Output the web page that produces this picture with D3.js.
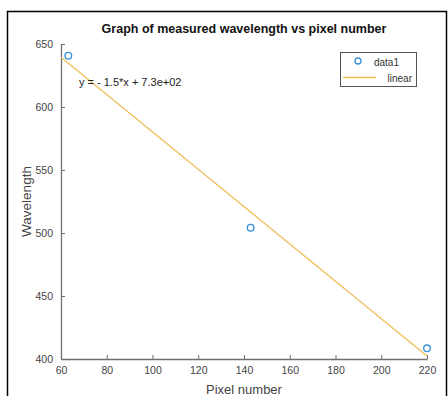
<!DOCTYPE html>
<html>
<head>
<meta charset="utf-8">
<script src="https://cdn.jsdelivr.net/npm/d3@7"></script>
<style>
  body { margin: 0; background: #fff; }
  svg { display: block; font-family: "Liberation Sans", Arial, sans-serif; }
</style>
</head>
<body>
<div id="chart"></div>
<script>
// measured points
const pixelNumbers = [63.2, 142.9, 220];
const wavelengths = [640.7, 504.2, 408.5];
// fitted line end points
const fitX = [60, 220];
const fitY = [639.4, 402.3];
const xTicks = [60, 80, 100, 120, 140, 160, 180, 200, 220];
const yTicks = [400, 450, 500, 550, 600, 650];
const legendLabels = ['data1', 'linear'];

const width = 448, height = 396;
const plot = { left: 61, right: 427, top: 44, bottom: 359 };

const svg = d3.select('#chart')
    .append('svg')
    .attr('width', width)
    .attr('height', height);

// outer frame
svg.append('rect')
    .attr('x', 7.5).attr('y', 11.5)
    .attr('width', 439).attr('height', 400)
    .attr('fill', 'none')
    .attr('stroke', '#000')
    .attr('stroke-width', 1.5);

const x = d3.scaleLinear().domain([60, 220]).range([plot.left, plot.right]);
const y = d3.scaleLinear().domain([400, 650]).range([plot.bottom, plot.top]);

const xAxis = svg.append('g')
    .attr('transform', `translate(0,${plot.bottom})`)
    .call(d3.axisBottom(x).tickValues(xTicks).tickSize(-4).tickPadding(8).tickSizeOuter(0));

const yAxis = svg.append('g')
    .attr('transform', `translate(${plot.left},0)`)
    .call(d3.axisLeft(y).tickValues(yTicks).tickSize(-4).tickPadding(8).tickSizeOuter(0));

[xAxis, yAxis].forEach(g => {
    g.select('.domain').attr('stroke', '#707070').attr('stroke-width', 1.3);
    g.selectAll('.tick line').attr('stroke', '#707070');
    g.selectAll('.tick text')
        .attr('fill', '#444')
        .style('font-size', '10.5px')
        .style('font-family', '"Liberation Sans", Arial, sans-serif');
});

// fit line
svg.append('line')
    .attr('x1', x(fitX[0])).attr('y1', y(fitY[0]))
    .attr('x2', x(fitX[1])).attr('y2', y(fitY[1]))
    .attr('stroke', '#f0be5a')
    .attr('stroke-width', 1.3);

// data points
svg.selectAll('.pt')
    .data(pixelNumbers)
    .enter()
    .append('circle')
    .attr('class', 'pt')
    .attr('cx', d => x(d))
    .attr('cy', (d, i) => y(wavelengths[i]))
    .attr('r', 3.3)
    .attr('fill', 'none')
    .attr('stroke', '#3d94d8')
    .attr('stroke-width', 1.4);

// equation label
svg.append('text')
    .attr('x', 79).attr('y', 86)
    .attr('fill', '#222')
    .style('font-size', '11px')
    .text('y = - 1.5*x + 7.3e+02');

// title
svg.append('text')
    .attr('x', (plot.left + plot.right) / 2).attr('y', 33)
    .attr('text-anchor', 'middle')
    .attr('font-weight', 'bold')
    .attr('fill', '#111')
    .style('font-size', '12.5px')
    .text('Graph of measured wavelength vs pixel number');

// axis labels
svg.append('text')
    .attr('x', (plot.left + plot.right) / 2).attr('y', 394)
    .attr('text-anchor', 'middle')
    .attr('fill', '#444')
    .style('font-size', '13px')
    .text('Pixel number');

svg.append('text')
    .attr('transform', `translate(31,${(plot.top + plot.bottom) / 2}) rotate(-90)`)
    .attr('text-anchor', 'middle')
    .attr('fill', '#444')
    .style('font-size', '13.5px')
    .text('Wavelength');

// legend
const legend = svg.append('g');
legend.append('rect')
    .attr('x', 340.5).attr('y', 52.5)
    .attr('width', 76).attr('height', 34)
    .attr('fill', '#fff')
    .attr('stroke', '#555');
legend.append('circle')
    .attr('cx', 358).attr('cy', 61).attr('r', 3)
    .attr('fill', 'none')
    .attr('stroke', '#3d94d8')
    .attr('stroke-width', 1.4);
legend.append('line')
    .attr('x1', 343).attr('x2', 376)
    .attr('y1', 77.5).attr('y2', 77.5)
    .attr('stroke', '#f0be5a')
    .attr('stroke-width', 1.3);
legend.selectAll('.lab')
    .data(legendLabels)
    .enter()
    .append('text')
    .attr('class', 'lab')
    .attr('x', (d, i) => i === 0 ? 399 : 412)
    .attr('y', (d, i) => 65.5 + i * 16)
    .attr('text-anchor', 'end')
    .attr('fill', '#333')
    .style('font-size', '10px')
    .text(d => d);
</script>
</body>
</html>
